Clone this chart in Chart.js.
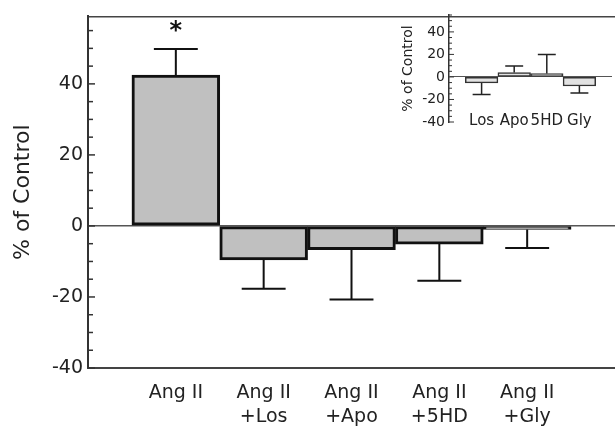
<!DOCTYPE html>
<html>
<head>
<meta charset="utf-8">
<script src="https://cdn.jsdelivr.net/npm/chart.js@4"></script>
<style>
  html, body { margin: 0; padding: 0; background: #fff; overflow: hidden; }
  #wrap { position: relative; width: 615px; height: 428px; }
  #main { position: absolute; left: 0; top: 0; }
  #inset { position: absolute; left: 380px; top: 0; }
</style>
</head>
<body>
<div id="wrap">
  <canvas id="main" width="615" height="428"></canvas>
  <canvas id="inset" width="235" height="140"></canvas>
</div>
<script>
const categories = [["Ang II"], ["Ang II", "+Los"], ["Ang II", "+Apo"], ["Ang II", "+5HD"], ["Ang II", "+Gly"]];
const meanChange = [42.5, -9.6, -6.7, -5.1, -1.0];
const semChange = [7.3, 8.1, 14.0, 10.3, 5.2];
const marks = ["*", "", "", "", ""];

const insetCategories = ["Los", "Apo", "5HD", "Gly"];
const insetMean = [-5.3, 3.9, 3.0, -8.0];
const insetSem = [10.3, 5.9, 17.0, 6.2];

const yRange = [-40, 59];
const insetRange = [-40, 55];

Chart.defaults.font.family = "'DejaVu Sans', sans-serif";
Chart.defaults.color = "#222";

// one empty slot each side, so the bars sit half a bar away from the axis
const pad = (arr, fill) => [fill, ...arr, fill];

const errorBars = {
    id: "errorBars",
    afterDatasetsDraw(chart, args, opts) {
        const { ctx } = chart;
        const meta = chart.getDatasetMeta(0);
        const y = chart.scales.y;
        ctx.save();
        ctx.strokeStyle = opts.color;
        ctx.lineWidth = opts.lineWidth;
        opts.sem.forEach((e, i) => {
            const bar = meta.data[i + 1];
            const v = opts.mean[i];
            const tip = v >= 0 ? v + e : v - e;
            const y0 = y.getPixelForValue(v);
            const y1 = y.getPixelForValue(tip);
            const half = bar.width * opts.cap / 2;
            ctx.beginPath();
            ctx.moveTo(bar.x, y0);
            ctx.lineTo(bar.x, y1);
            ctx.moveTo(bar.x - half, y1);
            ctx.lineTo(bar.x + half, y1);
            ctx.stroke();
            if (opts.marks && opts.marks[i]) {
                ctx.fillStyle = opts.color;
                ctx.font = "bold 24px 'DejaVu Sans'";
                ctx.textAlign = "center";
                ctx.textBaseline = "alphabetic";
                ctx.fillText(opts.marks[i], bar.x, y1 - 11);
            }
        });
        ctx.restore();
    }
};

// tick marks pointing into the plot
const innerTicks = {
    id: "innerTicks",
    afterDraw(chart, args, opts) {
        const s = chart.scales.y;
        const ctx = chart.ctx;
        ctx.save();
        ctx.strokeStyle = opts.color;
        ctx.lineWidth = opts.width;
        s.ticks.forEach((t) => {
            if (t.value % 5 !== 0) return;
            const len = t.value % 20 === 0 ? opts.major : opts.minor;
            const py = s.getPixelForValue(t.value);
            ctx.beginPath();
            ctx.moveTo(s.right, py);
            ctx.lineTo(s.right + len, py);
            ctx.stroke();
        });
        ctx.restore();
    }
};

const tickLabel = (lim) => (v) => (v % 20 === 0 && v <= lim ? String(v) : "");

new Chart(document.getElementById("main"), {
    type: "bar",
    data: {
        labels: pad(categories, ""),
        datasets: [{
            data: pad(meanChange, null),
            backgroundColor: "#c0c0c0",
            borderColor: "#111",
            borderWidth: 3,
            borderSkipped: false,
            barPercentage: 1,
            categoryPercentage: 1
        }]
    },
    options: {
        responsive: false,
        animation: false,
        devicePixelRatio: 1,
        layout: { padding: 0, autoPadding: false },
        plugins: {
            legend: { display: false },
            tooltip: { enabled: false },
            errorBars: { mean: meanChange, sem: semChange, marks: marks, cap: 0.5, lineWidth: 2, color: "#111" },
            innerTicks: { major: 7, minor: 5, width: 1.5, color: "#333" }
        },
        scales: {
            x: {
                offset: false,
                // tick length only used as spacing: the grid itself is hidden
                grid: { display: false, drawTicks: true, tickLength: 13 },
                border: { color: "#444", width: 2 },
                ticks: { font: { size: 19, lineHeight: 1.25 }, padding: 0, maxRotation: 0, autoSkip: false },
                afterFit(s) { s.height = 60; }
            },
            top: {
                axis: "x",
                type: "category",
                position: "top",
                offset: false,
                grid: { display: false, drawTicks: false },
                ticks: { display: false, padding: 0 },
                border: { color: "#444", width: 1.5 },
                afterFit(s) { s.height = 14; }
            },
            y: {
                min: yRange[0],
                max: yRange[1],
                ticks: {
                    stepSize: 5,
                    includeBounds: false,
                    autoSkip: false,
                    padding: 5,
                    font: { size: 19 },
                    callback: tickLabel(40)
                },
                grid: {
                    drawTicks: false,
                    color: (c) => (c.tick && c.tick.value === 0 ? "#555" : "transparent"),
                    lineWidth: 1.5
                },
                border: { color: "#333", width: 2 },
                title: { display: true, text: "% of Control", font: { size: 22 }, padding: { top: 10, bottom: 0 } },
                afterFit(s) { s.width = 88; }
            }
        }
    },
    plugins: [errorBars, innerTicks]
});

new Chart(document.getElementById("inset"), {
    type: "bar",
    data: {
        labels: pad(insetCategories, ""),
        datasets: [{
            data: pad(insetMean, null),
            backgroundColor: "#e2e2e2",
            borderColor: "#333",
            borderWidth: 1.5,
            borderSkipped: false,
            barPercentage: 1,
            categoryPercentage: 1
        }]
    },
    options: {
        responsive: false,
        animation: false,
        devicePixelRatio: 1,
        layout: { padding: { top: 15, right: 3 }, autoPadding: false },
        plugins: {
            legend: { display: false },
            tooltip: { enabled: false },
            errorBars: { mean: insetMean, sem: insetSem, cap: 0.55, lineWidth: 1.5, color: "#222" },
            innerTicks: { major: 5, minor: 3, width: 1, color: "#333" }
        },
        scales: {
            x: {
                offset: false,
                grid: { display: false, drawTicks: false },
                border: { display: false },
                // labels sit level with the -40 tick, inside the plot
                ticks: { font: { size: 15 }, mirror: true, padding: -8, maxRotation: 0, autoSkip: false },
                afterFit(s) { s.height = 18; }
            },
            y: {
                min: insetRange[0],
                max: insetRange[1],
                ticks: {
                    stepSize: 5,
                    includeBounds: false,
                    autoSkip: false,
                    padding: 4,
                    font: { size: 14 },
                    callback: tickLabel(40)
                },
                grid: {
                    drawTicks: false,
                    color: (c) => (c.tick && c.tick.value === 0 ? "#555" : "transparent"),
                    lineWidth: 1
                },
                border: { color: "#333", width: 1.5 },
                title: { display: true, text: "% of Control", font: { size: 14 }, padding: { top: 20, bottom: 0 } },
                afterFit(s) { s.width = 69; }
            }
        }
    },
    plugins: [errorBars, innerTicks]
});
</script>
</body>
</html>
